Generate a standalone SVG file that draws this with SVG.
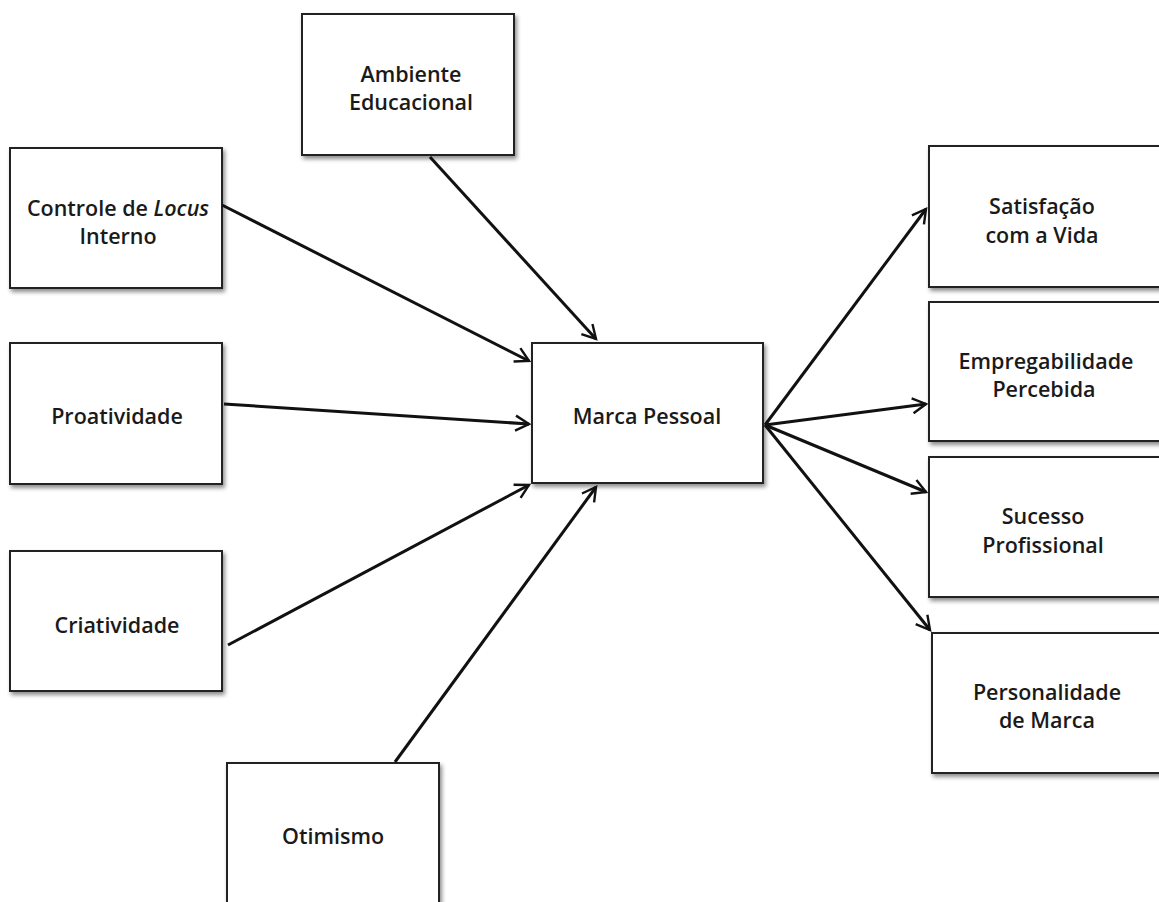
<svg xmlns="http://www.w3.org/2000/svg" width="1159" height="902" viewBox="0 0 1159 902">
<style>
.box{fill:#fff;stroke:#222;stroke-width:2;filter:url(#sh)}
.t{font-family:"Open Sans","Liberation Sans",sans-serif;font-weight:600;font-size:21.5px;fill:#1a1a1a;text-anchor:middle}
.c line{stroke:#111;stroke-width:3;marker-end:url(#ah)}
</style>
<defs>
<filter id="sh" x="-10%" y="-10%" width="125%" height="130%">
<feDropShadow dx="2" dy="3" stdDeviation="2" flood-color="#000" flood-opacity="0.45"/>
</filter>
<marker id="ah" viewBox="0 0 12 12" refX="10" refY="6" markerWidth="6" markerHeight="6" orient="auto" markerUnits="strokeWidth">
<path d="M1,1 L10,6 L1,11" fill="none" stroke="#111" stroke-width="1.6" stroke-linejoin="miter"/>
</marker>
</defs>
<rect width="1159" height="902" fill="#fff"/>
<g id="n-ambiente"><rect class="box" x="302" y="14" width="212" height="141"/><text class="t" x="411" y="82">Ambiente</text><text class="t" x="411" y="110">Educacional</text></g>
<g id="n-controle"><rect class="box" x="10" y="148" width="212" height="140"/><text class="t" x="118" y="216">Controle de <tspan font-style="italic">Locus</tspan></text><text class="t" x="118" y="244">Interno</text></g>
<g id="n-proatividade"><rect class="box" x="10" y="343" width="212" height="141"/><text class="t" x="117" y="424">Proatividade</text></g>
<g id="n-criatividade"><rect class="box" x="10" y="551" width="212" height="140"/><text class="t" x="117" y="633">Criatividade</text></g>
<g id="n-otimismo"><rect class="box" x="227" y="763" width="212" height="142"/><text class="t" x="333" y="844">Otimismo</text></g>
<g id="n-marca"><rect class="box" x="532" y="343" width="231" height="140"/><text class="t" x="647" y="424">Marca Pessoal</text></g>
<g id="n-satisfacao"><rect class="box" x="929" y="146" width="240" height="141"/><text class="t" x="1042" y="214">Satisfação</text><text class="t" x="1042" y="243">com a Vida</text></g>
<g id="n-empregabilidade"><rect class="box" x="929" y="302" width="240" height="139"/><text class="t" x="1046" y="369">Empregabilidade</text><text class="t" x="1044" y="397">Percebida</text></g>
<g id="n-sucesso"><rect class="box" x="929" y="457" width="240" height="140"/><text class="t" x="1043" y="524">Sucesso</text><text class="t" x="1043" y="553">Profissional</text></g>
<g id="n-personalidade"><rect class="box" x="932" y="633" width="240" height="140"/><text class="t" x="1047" y="700">Personalidade</text><text class="t" x="1047" y="728">de Marca</text></g>
<g id="connectors" class="c">
<line x1="222" y1="205" x2="529" y2="361"/>
<line x1="430" y1="157" x2="596" y2="339"/>
<line x1="224" y1="404" x2="529" y2="424"/>
<line x1="228" y1="645" x2="529" y2="485"/>
<line x1="395" y1="762" x2="596" y2="487"/>
<line x1="765" y1="425" x2="926" y2="209"/>
<line x1="765" y1="425" x2="926" y2="404"/>
<line x1="765" y1="425" x2="926" y2="492"/>
<line x1="765" y1="425" x2="930" y2="630"/>
</g>
</svg>
